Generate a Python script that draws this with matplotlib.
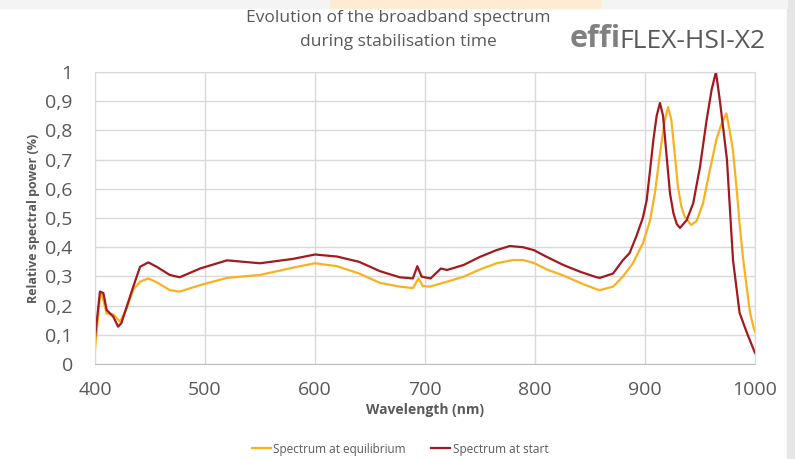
import matplotlib.pyplot as plt
from matplotlib.patches import Rectangle

# ── Data ──────────────────────────────────────────────────────────────────────
wl_eq = [400, 404.5, 406, 410.6, 416.6, 422.7, 428.8, 434.8, 441, 448.5, 456,
         468, 477, 495.5, 520, 550, 580, 600, 620, 640, 659, 677, 689, 694,
         698, 704.5, 720, 735, 750, 765, 780, 789, 799, 810.6, 825.8, 841,
         856, 859, 871, 880, 889, 898, 904.5, 909, 913.6, 918, 921, 924, 927,
         930, 933, 936, 942, 947, 952.7, 959, 965, 969.7, 974, 977, 980,
         983.4, 986, 989, 992.4, 995.5, 998.6, 1000]
eq = [0.05, 0.23, 0.243, 0.173, 0.17, 0.145, 0.19, 0.255, 0.282, 0.293, 0.28,
      0.253, 0.248, 0.27, 0.295, 0.305, 0.33, 0.345, 0.335, 0.31, 0.278, 0.265,
      0.26, 0.293, 0.267, 0.265, 0.282, 0.299, 0.324, 0.345, 0.356, 0.356,
      0.346, 0.324, 0.303, 0.278, 0.256, 0.253, 0.265, 0.3, 0.345, 0.413,
      0.49, 0.585, 0.72, 0.835, 0.88, 0.835, 0.72, 0.605, 0.54, 0.505, 0.476,
      0.49, 0.55, 0.665, 0.77, 0.824, 0.858, 0.8, 0.73, 0.596, 0.48, 0.367,
      0.265, 0.175, 0.127, 0.11]

wl_start = [399.5, 404.5, 407.6, 410.6, 416.6, 421, 424, 428.8, 434.8, 441,
            448.5, 456, 468, 477, 495.5, 520, 550, 580, 600, 620, 640, 659,
            677, 689, 693, 697, 705, 714.5, 720, 735, 750, 765, 777, 789, 799,
            810.6, 825.8, 841, 856, 859, 871, 880, 886, 892, 898, 901.5, 904.5,
            907.7, 910.6, 913.6, 916.4, 919.7, 922.7, 925.8, 928.8, 931.8,
            937.9, 943.8, 950, 956, 960.6, 964.5, 968, 971, 974.5, 980, 986,
            992.7, 1000]
start = [0.072, 0.248, 0.243, 0.185, 0.162, 0.128, 0.14, 0.196, 0.265, 0.333,
         0.348, 0.333, 0.305, 0.297, 0.327, 0.355, 0.345, 0.36, 0.375, 0.368,
         0.35, 0.318, 0.297, 0.293, 0.335, 0.299, 0.293, 0.327, 0.322, 0.339,
         0.367, 0.39, 0.404, 0.4, 0.39, 0.367, 0.339, 0.316, 0.297, 0.295,
         0.31, 0.356, 0.38, 0.436, 0.5, 0.56, 0.66, 0.77, 0.85, 0.894, 0.85,
         0.71, 0.585, 0.517, 0.48, 0.466, 0.493, 0.55, 0.675, 0.835, 0.94,
         1.0, 0.904, 0.81, 0.70, 0.356, 0.175, 0.106, 0.038]

x_ticks = [400, 500, 600, 700, 800, 900, 1000]
y_ticks = [0, 0.1, 0.2, 0.3, 0.4, 0.5, 0.6, 0.7, 0.8, 0.9, 1.0]
y_tick_labels = ["0", "0,1", "0,2", "0,3", "0,4", "0,5", "0,6", "0,7", "0,8", "0,9", "1"]

ORANGE = "#FBB11F"
RED = "#A3191E"
GREY = "#595959"
GRID = "#D9D9D9"

plt.rcParams["font.family"] = ["Open Sans", "DejaVu Sans"]

fig = plt.figure(figsize=(7.95, 4.59), dpi=100)

# slide background bits around the chart
fig.patches.append(Rectangle((787 / 795, 0), 8 / 795, 1, transform=fig.transFigure,
                             color="#E6E6E6", zorder=0))
fig.patches.append(Rectangle((0, 1 - 8 / 459), 787 / 795, 8 / 459, transform=fig.transFigure,
                             color="#F4F4F4", zorder=0))
fig.patches.append(Rectangle((330 / 795, 1 - 8 / 459), 270 / 795, 8 / 459,
                             transform=fig.transFigure, color="#FDEBD3", zorder=0))

ax = fig.add_axes([95 / 795, 95 / 459, 660 / 795, 292 / 459])
l1, = ax.plot(wl_eq, eq, color=ORANGE, linewidth=1.6, label="Spectrum at equilibrium")
l2, = ax.plot(wl_start, start, color=RED, linewidth=1.6, label="Spectrum at start")

ax.set_xlim(400, 1000)
ax.set_ylim(0, 1)
ax.set_xticks(x_ticks)
ax.set_yticks(y_ticks)
ax.set_yticklabels(y_tick_labels)
ax.tick_params(length=0, labelsize=14, labelcolor=GREY)
ax.tick_params(axis="x", pad=12)
ax.tick_params(axis="y", pad=16)
ax.grid(True, color=GRID, linewidth=1)
ax.set_axisbelow(True)
for sp in ax.spines.values():
    sp.set_color(GRID)
ax.spines["bottom"].set_color("#BFBFBF")

ax.set_xlabel("Wavelength (nm)", fontsize=10, fontweight="bold", color=GREY, labelpad=3)
ax.set_ylabel("Relative spectral power (%)", fontsize=9, fontweight="bold", color=GREY,
              labelpad=4)

fig.text(398 / 795, 1 - 18 / 459, "Evolution of the broadband spectrum", ha="center",
         va="center", fontsize=12.5, color=GREY)
fig.text(398 / 795, 1 - 42 / 459, "during stabilisation time", ha="center",
         va="center", fontsize=12.5, color=GREY)

# logo text
fig.text(570 / 795, 1 - 39 / 459, "effi", ha="left", va="center", fontsize=22,
         fontweight="bold", color="#808080")
fig.text(619 / 795, 1 - 42 / 459, "FLEX-HSI-X2", ha="left", va="center", fontsize=19,
         color="#595959")

fig.legend(handles=[l1, l2], loc="center", bbox_to_anchor=(400 / 795, 1 - 449 / 459),
           ncol=2, frameon=False, fontsize=8.5, handlelength=1.6, handletextpad=0.2,
           columnspacing=2.2, labelcolor=GREY)

fig.savefig("out.png", dpi=100)
